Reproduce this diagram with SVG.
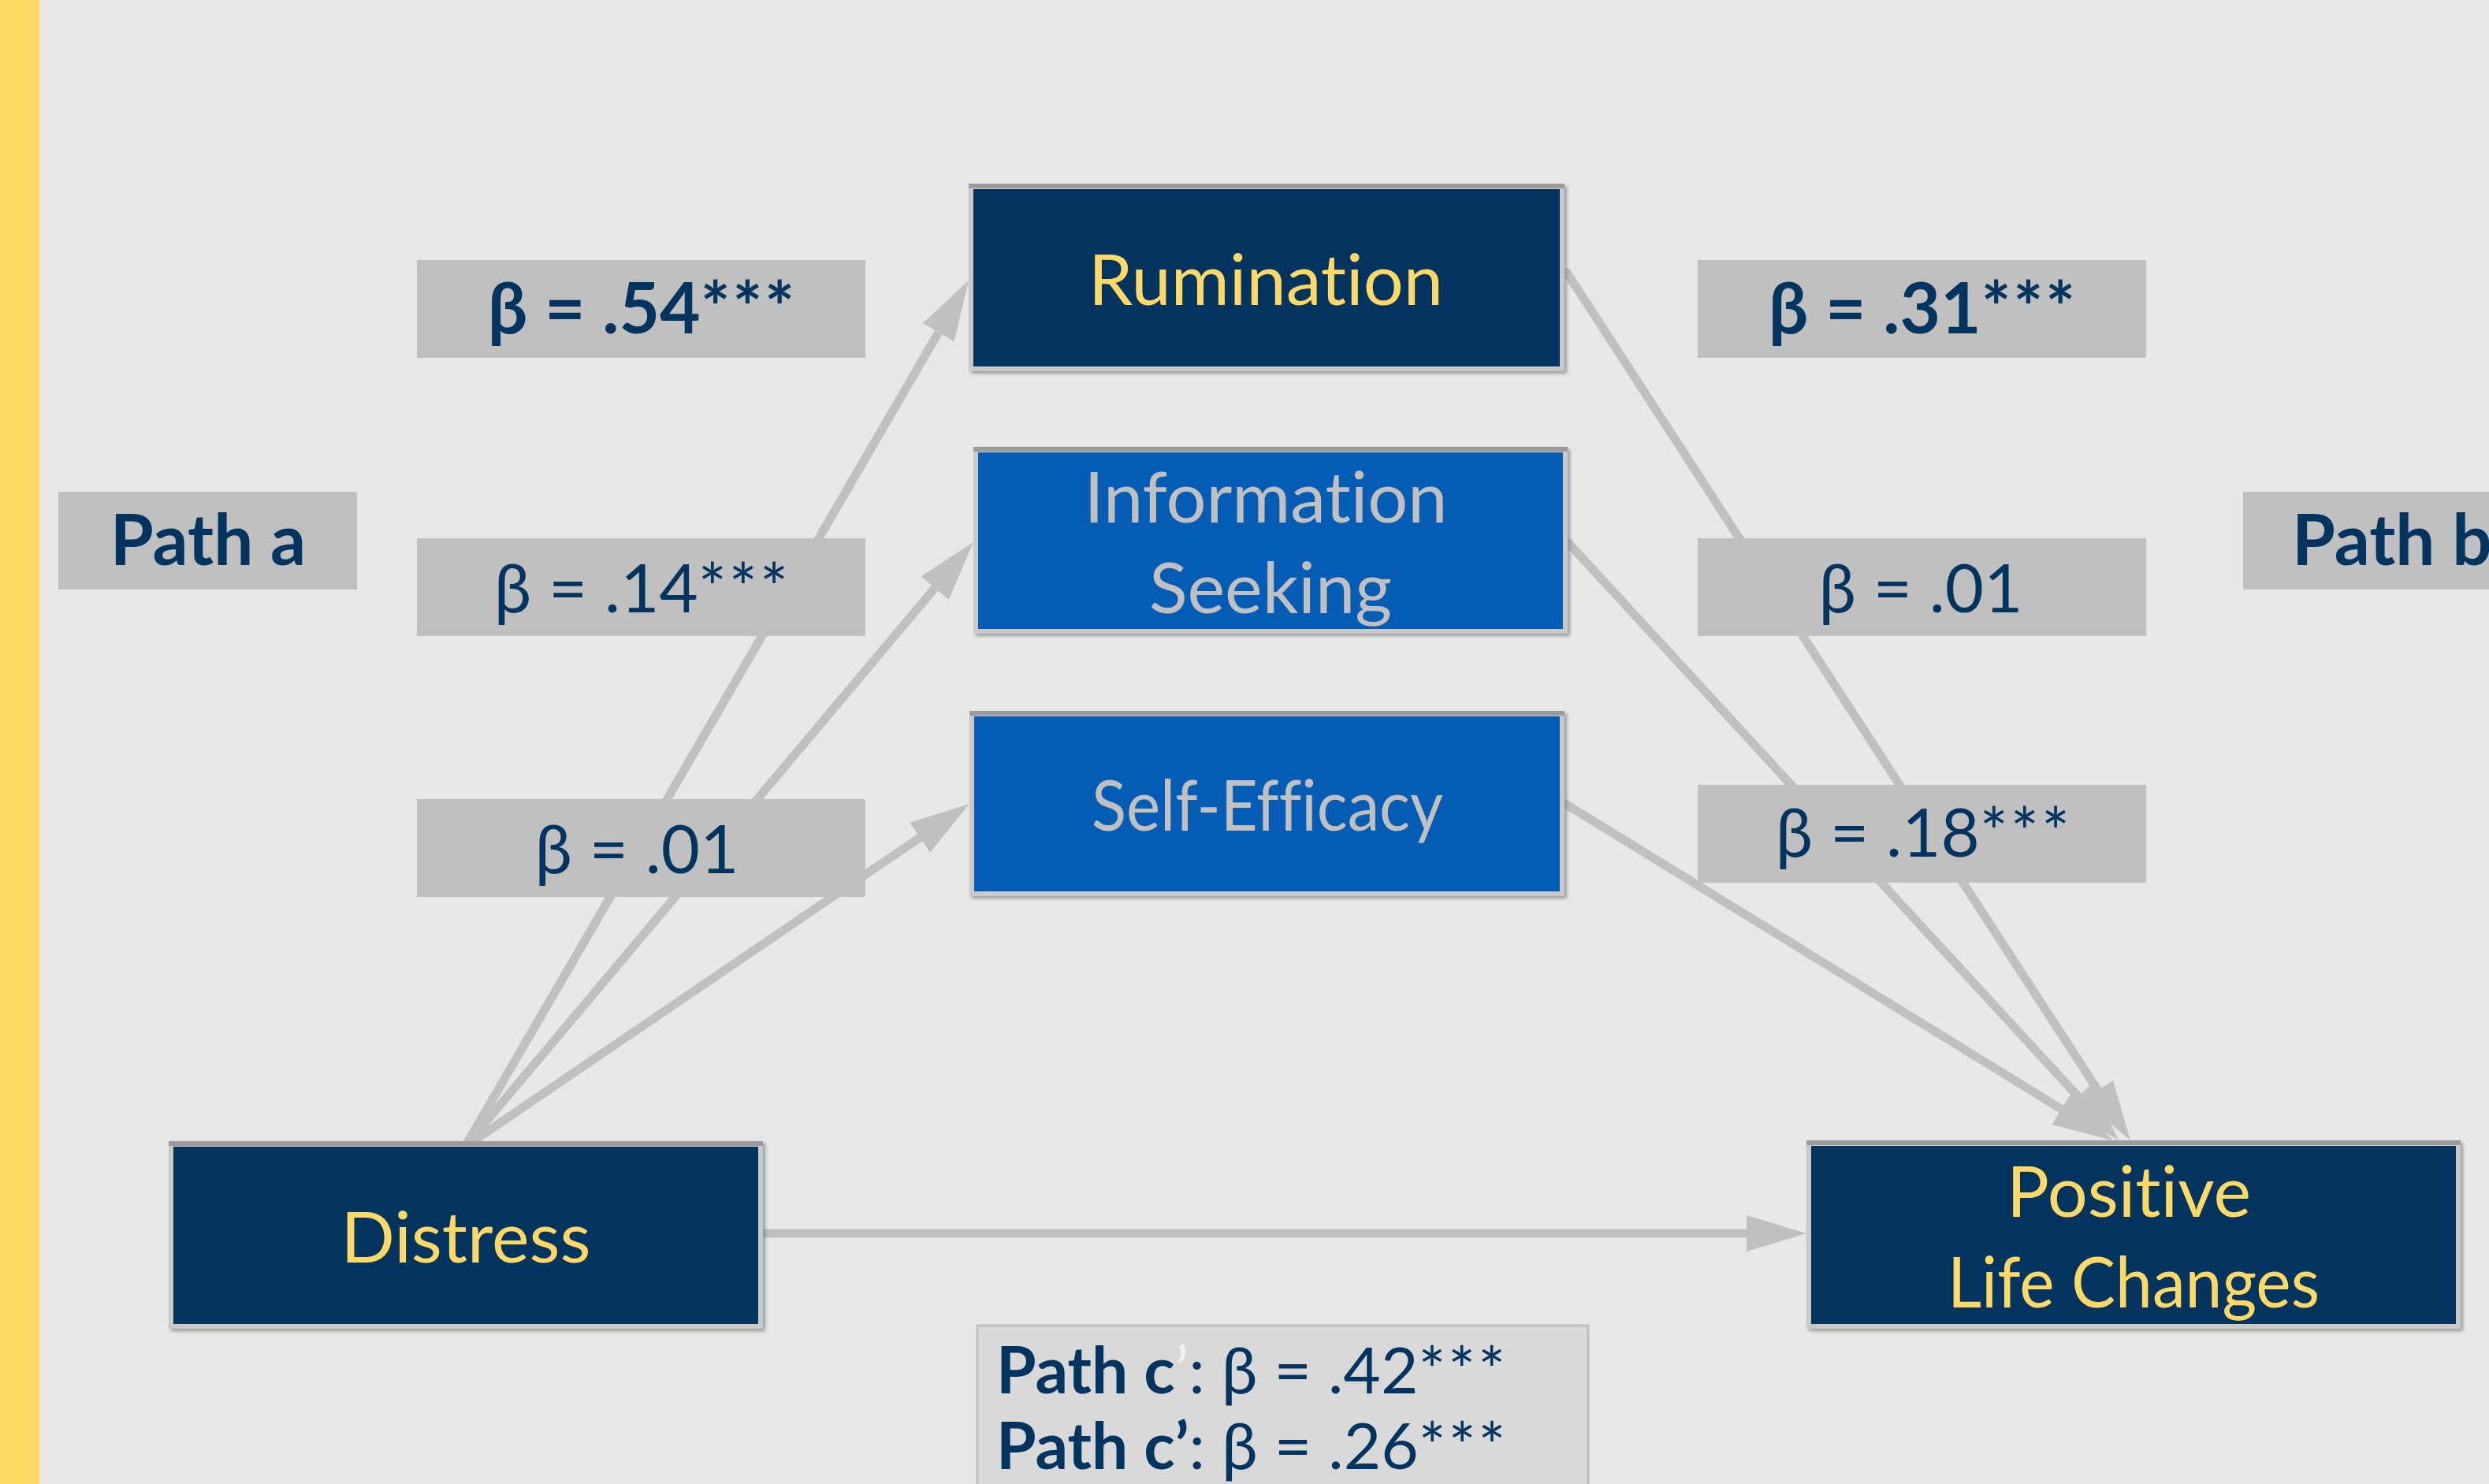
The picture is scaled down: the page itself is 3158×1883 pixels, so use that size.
<svg xmlns="http://www.w3.org/2000/svg" width="3158" height="1883" viewBox="0 0 3158 1883">
<style>
.bg{fill:#e8e8e8}
.frame{fill:#c9c9c9;filter:url(#sh)}
.ftop{fill:#9a9a9a}
.navy{fill:#03335f}
.blue{fill:#055cb4}
.lbl{fill:#c0c0c0}
.t{font-family:Lato,"Open Sans","DejaVu Sans",sans-serif;text-anchor:middle;font-variant-ligatures:none;font-feature-settings:"liga" 0,"clig" 0}
.ty{fill:#ffd966;font-size:90px}
.tg{fill:#c0c0c0;font-size:90px}
.tl{fill:#03335f;font-size:85px}
.b{font-weight:bold;font-size:89px}
.pc{fill:#03335f;font-size:82px}
.pcb{font-weight:bold}
.ast{letter-spacing:3px}
.conn{stroke:#c0c0c0;stroke-width:11;fill:none;stroke-linecap:round;marker-end:url(#ah)}
</style>
<defs>
<filter id="sh" x="-5%" y="-5%" width="110%" height="115%">
<feDropShadow dx="3" dy="3" stdDeviation="2" flood-color="#7a7a7a" flood-opacity="0.7"/>
</filter>
<marker id="ah" markerUnits="userSpaceOnUse" markerWidth="80" markerHeight="50" refX="16" refY="23" orient="auto">
<path d="M0,0 L76,23 L0,46 Z" fill="#c0c0c0"/>
</marker>
</defs>
<rect class="bg" x="0" y="0" width="3158" height="1883"/>
<rect x="0" y="0" width="50" height="1883" fill="#ffd966"/>

<g id="connectors">
<line class="conn" x1="590" y1="1455" x2="1198.8" y2="407.9"/>
<line class="conn" x1="590" y1="1455" x2="1196.4" y2="733.9"/>
<line class="conn" x1="590" y1="1455" x2="1180.4" y2="1053.7"/>
<line class="conn" x1="1988" y1="346" x2="2670.3" y2="1396.7"/>
<line class="conn" x1="1990" y1="689" x2="2647.4" y2="1402.9"/>
<line class="conn" x1="1986" y1="1020" x2="2628.9" y2="1415.6"/>
<line class="conn" x1="970" y1="1565" x2="2232" y2="1565"/>
</g>

<g id="label-path-a">
<rect class="lbl" x="74" y="624" width="379" height="124"/>
<text class="t tl b" x="264" y="717">Path a</text>
</g>
<g id="label-a1">
<rect class="lbl" x="529" y="330" width="569" height="124"/>
<text class="t tl b" x="815" y="423">β = .54<tspan class="ast">***</tspan></text>
</g>
<g id="label-a2">
<rect class="lbl" x="529" y="683" width="569" height="124"/>
<text class="t tl" x="815" y="777">β = .14<tspan class="ast">***</tspan></text>
</g>
<g id="label-a3">
<rect class="lbl" x="529" y="1014" width="569" height="124"/>
<text class="t tl" x="808" y="1108">β = .01</text>
</g>
<g id="label-b1">
<rect class="lbl" x="2154" y="330" width="569" height="124"/>
<text class="t tl b" x="2440" y="423">β = .31<tspan class="ast">***</tspan></text>
</g>
<g id="label-b2">
<rect class="lbl" x="2154" y="683" width="569" height="124"/>
<text class="t tl" x="2437" y="777">β = .01</text>
</g>
<g id="label-b3">
<rect class="lbl" x="2154" y="996" width="569" height="124"/>
<text class="t tl" x="2441" y="1087">β = .18<tspan class="ast">***</tspan></text>
</g>
<g id="label-path-b">
<rect class="lbl" x="2846" y="624" width="330" height="124"/>
<text class="t tl b" x="2908" y="717" style="text-anchor:start">Path b</text>
</g>

<g id="rumination">
<rect class="frame" x="1229" y="233" width="756" height="238"/>
<rect class="ftop" x="1229" y="233" width="756" height="6"/>
<rect class="navy" x="1235" y="240" width="744" height="225"/>
<text class="t ty" x="1606" y="387">Rumination</text>
</g>
<g id="information-seeking">
<rect class="frame" x="1235" y="567" width="754" height="237"/>
<rect class="ftop" x="1235" y="567" width="754" height="6"/>
<rect class="blue" x="1241" y="574" width="742" height="224"/>
<text class="t tg" x="1606" y="663">Information</text>
<text class="t tg" x="1612" y="778">Seeking</text>
</g>
<g id="self-efficacy">
<rect class="frame" x="1230" y="902" width="755" height="235"/>
<rect class="ftop" x="1230" y="902" width="755" height="6"/>
<rect class="blue" x="1236" y="909" width="743" height="222"/>
<text class="t tg" x="1608" y="1054" textLength="446" lengthAdjust="spacingAndGlyphs">Self-Efficacy</text>
</g>
<g id="distress">
<rect class="frame" x="214" y="1448" width="754" height="238"/>
<rect class="ftop" x="214" y="1448" width="754" height="6"/>
<rect class="navy" x="220" y="1455" width="742" height="225"/>
<text class="t ty" x="591" y="1602">Distress</text>
</g>
<g id="positive-life-changes">
<rect class="frame" x="2292" y="1447" width="830" height="239"/>
<rect class="ftop" x="2292" y="1447" width="830" height="6"/>
<rect class="navy" x="2298" y="1454" width="818" height="226"/>
<text class="t ty" x="2701" y="1544">Positive</text>
<text class="t ty" x="2707" y="1659" textLength="472" lengthAdjust="spacingAndGlyphs">Life Changes</text>
</g>

<g id="path-c">
<rect x="1240" y="1682" width="775" height="230" fill="#d9d9d9" stroke="#c0c0c0" stroke-width="3"/>
<text class="t pc" x="1264" y="1768" style="text-anchor:start"><tspan class="pcb">Path c</tspan><tspan fill="#f2f2f2">’</tspan>: β = .42<tspan class="ast">***</tspan></text>
<text class="t pc" x="1264" y="1864" style="text-anchor:start"><tspan class="pcb">Path c’</tspan>: β = .26<tspan class="ast">***</tspan></text>
</g>
</svg>
